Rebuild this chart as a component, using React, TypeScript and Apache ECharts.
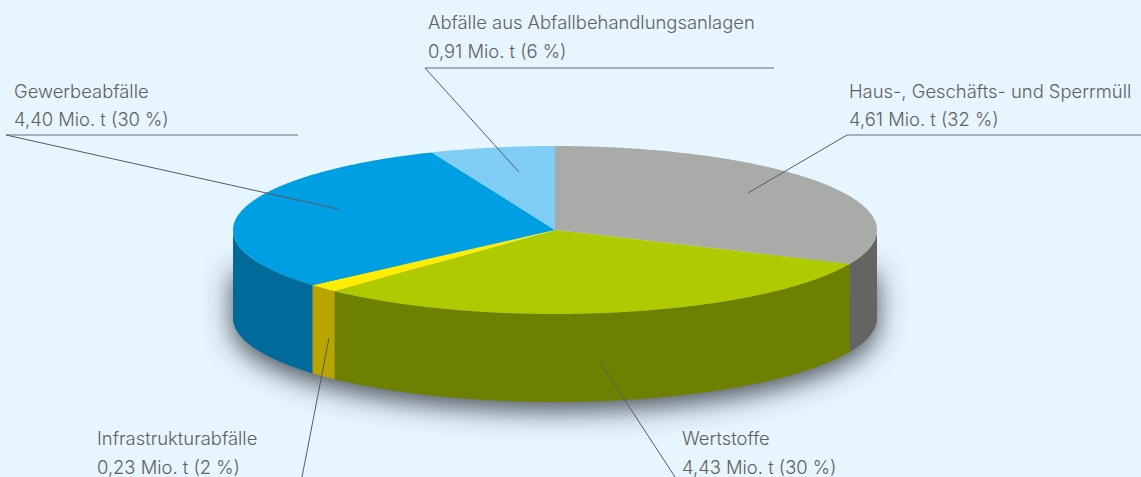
import React, { useEffect, useRef } from "react";
import * as echarts from "echarts";

const categories = [
  "Haus-, Geschäfts- und Sperrmüll",
  "Wertstoffe",
  "Infrastrukturabfälle",
  "Gewerbeabfälle",
  "Abfälle aus Abfallbehandlungsanlagen",
];
const values = [4.61, 4.43, 0.23, 4.4, 0.91];
const valueLabels = [
  "4,61 Mio. t (32 %)",
  "4,43 Mio. t (30 %)",
  "0,23 Mio. t (2 %)",
  "4,40 Mio. t (30 %)",
  "0,91 Mio. t (6 %)",
];
const topColors = ["#a9aba9", "#afca00", "#ffed00", "#009fe3", "#80cef6"];
const wallColors = ["#646462", "#6e8000", "#b8a500", "#006a9a", "#006a9a"];

const W = 1141;
const H = 477;
const CX = 555;
const CY = 230;
const RX = 322;
const RY = 84;
const DEPTH = 88;
const BG = "#e7f5fe";
const TEXT = "#606060";
const FONT = "Inter";
const LINE = "#5a5a5a";

// label anchor: [x, first-line y, second-line y]
const labelPos = [
  [849, 90.5, 118.5],
  [682, 437.5, 466.5],
  [97, 437.5, 466.5],
  [14, 90.5, 118.5],
  [428, 21.5, 50.5],
];
// leader lines: [x1,y1,x2,y2]
const leaders = [
  [847, 135, 748, 193],
  [600, 362, 675, 477],
  [329, 338, 302, 477],
  [6, 135, 338, 209],
  [425, 68, 519, 172],
];
const rules = [
  [847, 135, 1141, 135],
  [6, 135, 298, 135],
  [425, 68, 774, 68],
];

const total = values.reduce((a, b) => a + b, 0);
const pt = (deg: number, dy = 0): [number, number] => {
  const a = (deg * Math.PI) / 180;
  return [CX + RX * Math.sin(a), CY - RY * Math.cos(a) + dy];
};
const arc = (from: number, to: number, dy = 0) => {
  const out: [number, number][] = [];
  const n = Math.max(2, Math.ceil(Math.abs(to - from) * 2));
  for (let i = 0; i <= n; i++) out.push(pt(from + ((to - from) * i) / n, dy));
  return out;
};

const renderSlice = (params: any, api: any) => {
  const idx = params.dataIndex;
  const start = (values.slice(0, idx).reduce((a, b) => a + b, 0) / total) * 360;
  const end = start + (api.value(0) / total) * 360;
  const children: any[] = [];
  const wFrom = Math.max(start, 90);
  const wTo = Math.min(end, 270);
  if (wTo > wFrom) {
    children.push({
      type: "polygon",
      shape: { points: [...arc(wFrom, wTo), ...arc(wTo, wFrom, DEPTH)] },
      style: { fill: wallColors[idx] },
    });
  }
  children.push({
    type: "polygon",
    shape: { points: [[CX, CY], ...arc(start, end)] },
    style: { fill: topColors[idx] },
  });
  return { type: "group", children };
};

// Soft shadow under the lower half of the drum only: its top edge stays hidden behind the pie.
const renderShadow = () => ({
  type: "polygon",
  shape: { points: [[CX + RX, CY + 35], ...arc(90, 270, DEPTH), [CX - RX, CY + 35]] },
  style: {
    fill: "#6f7783",
    shadowBlur: 28,
    shadowColor: "rgba(50,55,65,0.9)",
    shadowOffsetX: 0,
    shadowOffsetY: 8,
  },
});

export default function App() {
  const ref = useRef<HTMLDivElement>(null);
  useEffect(() => {
    const chart = echarts.init(ref.current!, undefined, { renderer: "svg" });
    const graphics: any[] = [];
    rules.forEach(([x1, y1, x2, y2]) =>
      graphics.push({
        type: "line",
        z: 20,
        shape: { x1, y1, x2, y2 },
        style: { stroke: "#6a6a6a", lineWidth: 1.2 },
      })
    );
    leaders.forEach(([x1, y1, x2, y2]) =>
      graphics.push({
        type: "line",
        z: 20,
        shape: { x1, y1, x2, y2 },
        style: { stroke: LINE, lineWidth: 1 },
      })
    );
    categories.forEach((c, i) => {
      const [x, y1, y2] = labelPos[i];
      [c, valueLabels[i]].forEach((t, j) =>
        graphics.push({
          type: "text",
          z: 20,
          x,
          y: j === 0 ? y1 : y2,
          style: {
            text: t,
            fill: TEXT,
            font: `300 18.4px ${FONT}`,
            verticalAlign: "middle",
            align: "left",
          },
        })
      );
    });
    chart.setOption({
      animation: false,
      backgroundColor: BG,
      graphic: { elements: graphics },
      series: [
        {
          type: "custom",
          coordinateSystem: "none",
          z: 1,
          silent: true,
          renderItem: renderShadow,
          data: [[1]],
        },
        {
          type: "custom",
          coordinateSystem: "none",
          z: 2,
          silent: true,
          renderItem: renderSlice,
          data: values.map((v) => [v]),
        },
      ],
    });
    return () => chart.dispose();
  }, []);
  return (
    <div
      ref={ref}
      style={{ position: "fixed", left: 0, top: 0, width: W, height: H }}
    />
  );
}
